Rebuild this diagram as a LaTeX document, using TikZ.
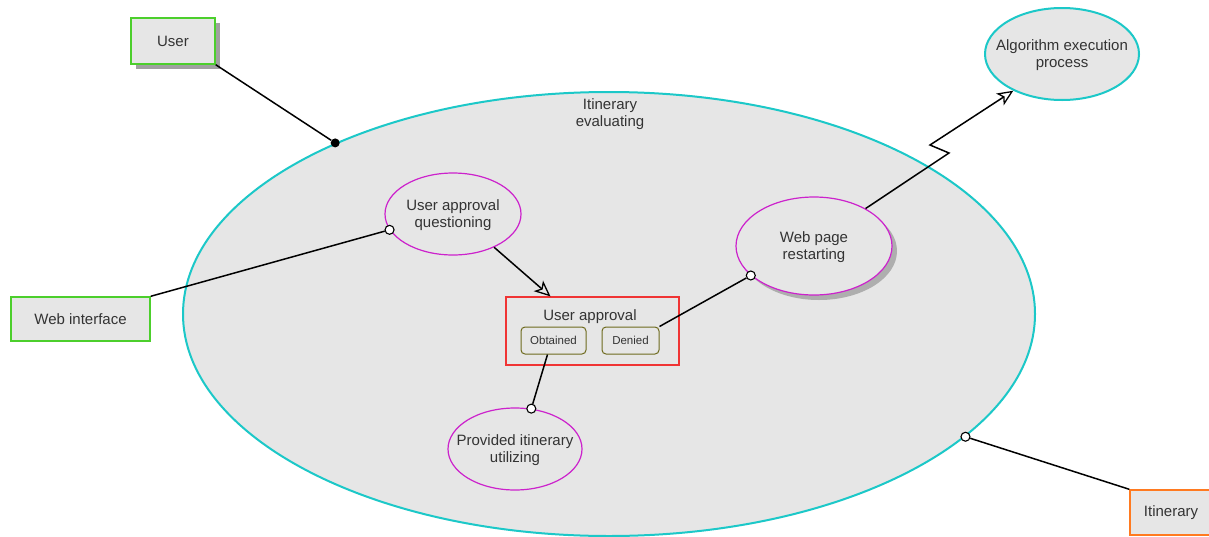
\documentclass[tikz,border=0pt]{standalone}
\usepackage{fontspec}
\setmainfont{Liberation Sans}
\usetikzlibrary{shapes.geometric,arrows.meta}
\definecolor{boxfill}{HTML}{E6E6E6}
\definecolor{cyanline}{HTML}{1CC8C8}
\definecolor{greenline}{HTML}{4CCF2C}
\definecolor{orangeline}{HTML}{FF7A20}
\definecolor{magline}{HTML}{CC22CC}
\definecolor{redline}{HTML}{F03434}
\definecolor{oliveline}{HTML}{6E6A1E}
\definecolor{txt}{HTML}{333333}
\definecolor{shadowgray}{HTML}{A0A0A0}
\tikzset{
  every node/.style={text=txt, font=\fontsize{15}{17}\selectfont, align=center},
  every label/.style={text=txt, font=\fontsize{15}{17}\selectfont, align=center, anchor=center, inner sep=0pt, yshift=-1.5pt},
  actor/.style={draw=greenline, line width=1.4pt, fill=boxfill, inner sep=0pt},
  usecase/.style={ellipse, draw=magline, line width=1.2pt, fill=boxfill, inner sep=0pt},
  system/.style={ellipse, draw=cyanline, line width=2pt, fill=boxfill, inner sep=0pt},
  statebox/.style={draw=oliveline, line width=1pt, rounded corners=4pt, fill=boxfill,
     inner sep=0pt, minimum height=27pt, font=\fontsize{11.5}{13}\selectfont},
  link/.style={draw=black, line width=1.5pt},
  port/.style={circle, draw=black, line width=1.1pt, fill=white, inner sep=0pt, minimum size=9pt},
  dotport/.style={circle, fill=black, inner sep=0pt, minimum size=9pt},
  opentip/.style={-{Stealth[open, inset=4pt, length=16pt, width=14pt, line width=1.3pt]}}
}
\begin{document}
\begin{tikzpicture}[x=1pt, y=-1pt]
\useasboundingbox (0,0) rectangle (1209,536);
\fill[white] (0,0) rectangle (1209,536);

% system boundary
\node[system, minimum width=852pt, minimum height=444pt] (sys) at (609,314) {};
\node[anchor=center] (systitle) at (610,114) {Itinerary\\evaluating};

% external algorithm process
\node[system, minimum width=154pt, minimum height=92pt,
      label={center:Algorithm execution\\process}] (algo) at (1062,54) {};

% actors
\fill[shadowgray] (136,23) rectangle (220,69);
\node[actor, minimum width=84pt, minimum height=46pt] (user) at (173,41) {User};
\node[actor, minimum width=139pt, minimum height=44pt] (web) at (80.5,319) {Web interface};
\node[actor, draw=orangeline, minimum width=82pt, minimum height=45pt] (itin) at (1171,512.5) {Itinerary};

% use cases
\node[usecase, minimum width=136pt, minimum height=82pt,
      label={center:User approval\\questioning}] (ask) at (453,214) {};
\fill[shadowgray!85] (819,251) ellipse [x radius=78pt, y radius=49pt];
\node[usecase, minimum width=156pt, minimum height=98pt,
      label={center:Web page\\restarting}] (restart) at (814,246) {};
\node[usecase, minimum width=134pt, minimum height=82pt,
      label={center:Provided itinerary\\utilizing}] (use) at (515,449) {};

% decision with its outcomes
\node[draw=redline, line width=1.2pt, fill=boxfill, minimum width=173pt, minimum height=68pt, inner sep=0pt] (appr) at (592.5,331) {};
\node (apprtitle) at (590,317) {User approval};
\node[statebox, minimum width=65pt] (ok) at (553.5,340.5) {Obtained};
\node[statebox, minimum width=57pt] (no) at (630.5,340.5) {Denied};

% ports on borders
\node[dotport] (pUser) at (sys.148.5) {};
\node[port] (pItin) at (sys.-19.5) {};
\node[port] (pWeb) at (ask.194.2) {};
\node[port] (pRestart) at (restart.205.2) {};
\node[port] (pUse) at (use.68.4) {};

% connectors
\draw[link] (user.south east) -- (pUser);
\draw[link] (web.north east) -- (pWeb);
\draw[link] (itin.north west) -- (pItin);
\draw[link] (no.north east) -- (pRestart);
\draw[link] ([xshift=-6pt]ok.south) -- (pUse);
\draw[link, opentip] (ask.-39.5) -- ([xshift=-42pt]appr.north);

\coordinate (z1) at (949,153);
\coordinate (z2) at (930,145);
\draw[link, opentip, line join=miter] (restart.36) -- (z1) -- (z2) -- (algo.217.6);
\end{tikzpicture}
\end{document}
